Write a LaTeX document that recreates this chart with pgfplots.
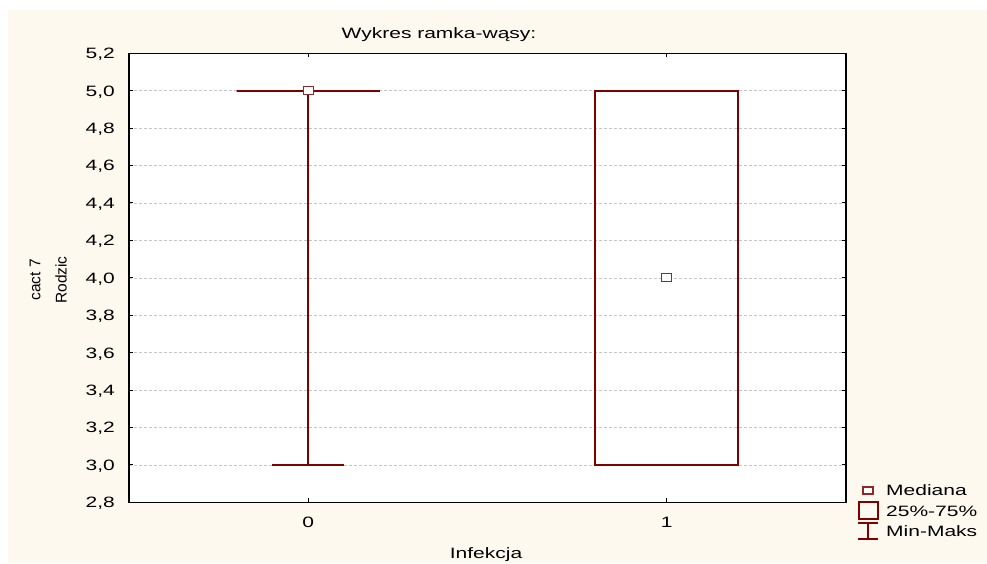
\documentclass[border=0pt]{standalone}
\usepackage{fontspec}
\setmainfont{Liberation Sans}[FakeStretch=1.4]
\newfontfamily\uprightsans{Liberation Sans}
\usepackage{pgfplots}
\pgfplotsset{compat=1.18}
\usepgfplotslibrary{statistics}
\definecolor{boxred}{RGB}{128,0,0}
\definecolor{panel}{RGB}{253,249,238}

\begin{document}
\fontsize{15}{18}\selectfont
\begin{tikzpicture}
\useasboundingbox (0,0) rectangle (987pt,563pt);
\fill[white] (0,0) rectangle (987pt,563pt);
\fill[panel] (8pt,0) rectangle (987pt,553pt);
\begin{axis}[
  at={(129pt,60.7pt)}, anchor=south west,
  width=717pt, height=449pt, scale only axis,
  axis background/.style={fill=white},
  xmin=-0.5, xmax=1.5, ymin=2.8, ymax=5.2,
  xtick={0,1}, xticklabels={0,1},
  ytick={2.8,3.0,3.2,3.4,3.6,3.8,4.0,4.2,4.4,4.6,4.8,5.0,5.2},
  tick align=inside, major tick length=4pt,
  tick style={black, line width=1pt},
  axis line style={black, line width=1.3pt},
  ymajorgrids, major grid style={densely dashed, gray!45, line width=0.6pt},
  /pgf/number format/assume math mode=true,
  tick label style={font=\fontsize{15}{18}\selectfont},
  yticklabel style={/pgf/number format/.cd, fixed, fixed zerofill, precision=1, use comma,
    /tikz/.cd, anchor=base east, inner sep=0pt, xshift=-14pt, yshift=-5.4pt},
  xticklabel style={anchor=base, inner sep=0pt, yshift=-25pt},
  boxplot/draw direction=y,
  boxplot/draw/median/.code={},
  boxplot/every box/.style={line width=2pt},
  boxplot/every whisker/.style={line width=2pt},
]
% Infekcja = 0
\addplot[boxred, line width=2pt, solid,
  boxplot prepared={draw position=0, lower whisker=3, lower quartile=5,
    median=5, upper quartile=5, upper whisker=5,
    box extend=0.4, whisker extend=0.2}] coordinates {};
% Infekcja = 1
\addplot[boxred, line width=2pt, solid,
  boxplot prepared={draw position=1, lower whisker=3, lower quartile=3,
    median=4, upper quartile=5, upper whisker=5,
    box extend=0.4, whisker extend=0.2}] coordinates {};
% medians
\addplot[only marks, mark=square*, mark size=4pt,
  mark options={fill=white, draw=boxred!85!white, line width=1.2pt, xscale=1.25}]
  coordinates {(0,5) (1,4)};
\end{axis}

% titles and axis labels
\node[anchor=base, inner sep=0pt] at (439pt,524.7pt) {Wykres ramka-wąsy:};
\node[anchor=base, inner sep=0pt] at (486pt,4.7pt) {Infekcja};
\node[rotate=90, inner sep=0pt, font=\uprightsans\fontsize{15.5}{18}\selectfont] at (35pt,283pt) {cact 7};
\node[rotate=90, inner sep=0pt, font=\uprightsans\fontsize{15.5}{18}\selectfont] at (61pt,283pt) {Rodzic};

% legend
\draw[boxred!85!white, line width=1.2pt, fill=white] (863pt,69pt) rectangle (873pt,76pt);
\draw[boxred, line width=2pt] (858.5pt,44.5pt) rectangle (877.5pt,61.5pt);
\draw[boxred, line width=2pt] (858pt,40.3pt) -- (878pt,40.3pt)
  (868pt,40.3pt) -- (868pt,24pt) (858pt,24pt) -- (878pt,24pt);
\node[anchor=base west, inner sep=0pt] at (886pt,68pt) {Mediana};
\node[anchor=base west, inner sep=0pt] at (886pt,47pt) {25\%-75\%};
\node[anchor=base west, inner sep=0pt] at (886pt,26.7pt) {Min-Maks};
\end{tikzpicture}
\end{document}
